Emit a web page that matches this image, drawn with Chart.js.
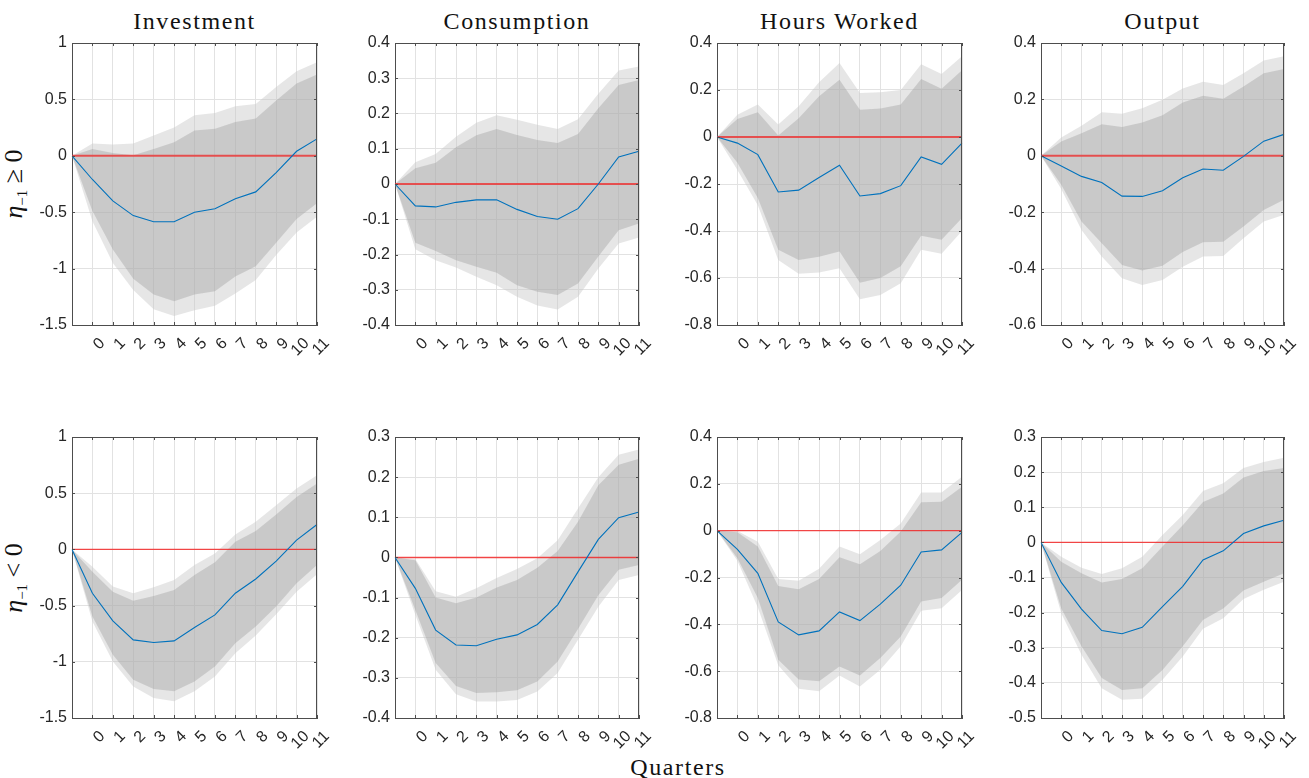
<!DOCTYPE html>
<html><head><meta charset="utf-8">
<script src="https://cdn.jsdelivr.net/npm/chart.js@4"></script>
<style>
body{margin:0;background:#fff;width:1309px;height:778px;position:relative;overflow:hidden;}
canvas{position:absolute;}
.ttl{position:absolute;font-family:"Liberation Serif",serif;font-size:24px;line-height:24px;letter-spacing:1.6px;color:#111;transform:translateX(-50%);white-space:nowrap;}
.row{position:absolute;font-family:"Liberation Serif",serif;font-size:26px;line-height:26px;color:#111;white-space:nowrap;transform:translate(-50%,-50%) rotate(-90deg);}
.row sub{font-size:15px;vertical-align:-5px;}
</style></head><body>
<script>
// ---------- data ----------
const QUARTER_LABELS = ['', '0','1','2','3','4','5','6','7','8','9','10','11'];
const COLUMN_TITLES = ['Investment','Consumption','Hours Worked','Output'];
const ZERO_LINE = [0,0,0,0,0,0,0,0,0,0,0,0,0];

// Row 1: eta_{-1} >= 0
const INV_POS_IRF    = [0,-0.21,-0.40,-0.53,-0.585,-0.585,-0.50,-0.47,-0.38,-0.32,-0.15,0.04,0.15];
const INV_POS_IN_HI  = [0,0.06,0.025,0.005,0.06,0.12,0.225,0.24,0.30,0.33,0.49,0.64,0.72];
const INV_POS_IN_LO  = [0,-0.49,-0.83,-1.09,-1.23,-1.29,-1.23,-1.20,-1.07,-0.98,-0.77,-0.56,-0.42];
const INV_POS_OUT_HI = [0,0.11,0.10,0.11,0.18,0.25,0.36,0.38,0.44,0.46,0.61,0.75,0.83];
const INV_POS_OUT_LO = [0,-0.58,-0.95,-1.19,-1.36,-1.42,-1.37,-1.33,-1.22,-1.10,-0.88,-0.68,-0.54];

const CONS_POS_IRF    = [0,-0.062,-0.065,-0.052,-0.045,-0.045,-0.072,-0.092,-0.10,-0.07,0.0,0.077,0.093];
const CONS_POS_IN_HI  = [0,0.045,0.06,0.104,0.138,0.156,0.139,0.125,0.116,0.142,0.215,0.281,0.295];
const CONS_POS_IN_LO  = [0,-0.167,-0.19,-0.216,-0.235,-0.252,-0.287,-0.306,-0.315,-0.282,-0.206,-0.131,-0.112];
const CONS_POS_OUT_HI = [0,0.062,0.085,0.134,0.174,0.195,0.182,0.168,0.156,0.184,0.256,0.322,0.333];
const CONS_POS_OUT_LO = [0,-0.185,-0.216,-0.237,-0.263,-0.287,-0.32,-0.345,-0.356,-0.32,-0.24,-0.169,-0.152];

const HRS_POS_IRF    = [0,-0.026,-0.075,-0.234,-0.226,-0.172,-0.12,-0.251,-0.241,-0.207,-0.085,-0.116,-0.026];
const HRS_POS_IN_HI  = [0,0.077,0.105,0.006,0.08,0.173,0.244,0.116,0.121,0.138,0.247,0.205,0.284];
const HRS_POS_IN_LO  = [0,-0.11,-0.26,-0.48,-0.523,-0.51,-0.487,-0.62,-0.60,-0.55,-0.42,-0.437,-0.345];
const HRS_POS_OUT_HI = [0,0.095,0.138,0.053,0.131,0.233,0.315,0.187,0.19,0.20,0.31,0.268,0.344];
const HRS_POS_OUT_LO = [0,-0.14,-0.29,-0.523,-0.582,-0.577,-0.558,-0.69,-0.672,-0.622,-0.48,-0.497,-0.40];

const OUT_POS_IRF    = [0,-0.036,-0.073,-0.095,-0.143,-0.144,-0.124,-0.078,-0.047,-0.051,-0.002,0.052,0.076];
const OUT_POS_IN_HI  = [0,0.051,0.08,0.112,0.102,0.118,0.144,0.189,0.213,0.202,0.246,0.293,0.308];
const OUT_POS_IN_LO  = [0,-0.103,-0.233,-0.31,-0.387,-0.407,-0.39,-0.341,-0.307,-0.305,-0.251,-0.192,-0.156];
const OUT_POS_OUT_HI = [0,0.065,0.107,0.154,0.149,0.169,0.199,0.239,0.263,0.251,0.293,0.338,0.353];
const OUT_POS_OUT_LO = [0,-0.118,-0.263,-0.357,-0.434,-0.458,-0.44,-0.393,-0.357,-0.355,-0.292,-0.233,-0.209];

// Row 2: eta_{-1} < 0
const INV_NEG_IRF    = [0,-0.39,-0.636,-0.805,-0.828,-0.814,-0.695,-0.583,-0.39,-0.263,-0.104,0.083,0.222];
const INV_NEG_IN_HI  = [0,-0.198,-0.376,-0.456,-0.414,-0.361,-0.228,-0.115,0.068,0.163,0.311,0.467,0.586];
const INV_NEG_IN_LO  = [0,-0.598,-0.938,-1.16,-1.243,-1.263,-1.175,-1.041,-0.834,-0.686,-0.509,-0.302,-0.139];
const INV_NEG_OUT_HI = [0,-0.154,-0.331,-0.39,-0.337,-0.272,-0.139,-0.036,0.133,0.246,0.393,0.541,0.66];
const INV_NEG_OUT_LO = [0,-0.642,-0.997,-1.219,-1.322,-1.352,-1.263,-1.13,-0.923,-0.766,-0.577,-0.376,-0.222];

const CONS_NEG_IRF    = [0,-0.077,-0.181,-0.218,-0.22,-0.204,-0.193,-0.167,-0.118,-0.036,0.045,0.099,0.113];
const CONS_NEG_IN_HI  = [0,-0.007,-0.10,-0.114,-0.10,-0.075,-0.056,-0.026,0.016,0.089,0.18,0.231,0.246];
const CONS_NEG_IN_LO  = [0,-0.131,-0.263,-0.32,-0.338,-0.336,-0.331,-0.309,-0.259,-0.178,-0.094,-0.031,-0.019];
const CONS_NEG_OUT_HI = [0,-0.004,-0.084,-0.098,-0.077,-0.051,-0.029,-0.002,0.043,0.122,0.20,0.256,0.269];
const CONS_NEG_OUT_LO = [0,-0.143,-0.28,-0.341,-0.359,-0.359,-0.355,-0.334,-0.288,-0.205,-0.123,-0.056,-0.044];

const HRS_NEG_IRF    = [0,-0.08,-0.182,-0.39,-0.445,-0.428,-0.347,-0.384,-0.314,-0.233,-0.091,-0.082,-0.007];
const HRS_NEG_IN_HI  = [0,-0.007,-0.068,-0.236,-0.25,-0.206,-0.114,-0.143,-0.087,-0.004,0.121,0.124,0.188];
const HRS_NEG_IN_LO  = [0,-0.118,-0.288,-0.551,-0.636,-0.643,-0.58,-0.618,-0.544,-0.452,-0.303,-0.288,-0.21];
const HRS_NEG_OUT_HI = [0,-0.001,-0.047,-0.206,-0.214,-0.163,-0.068,-0.101,-0.04,0.031,0.163,0.163,0.23];
const HRS_NEG_OUT_LO = [0,-0.129,-0.328,-0.575,-0.675,-0.686,-0.618,-0.665,-0.594,-0.494,-0.342,-0.331,-0.253];

const OUT_NEG_IRF    = [0,-0.114,-0.19,-0.251,-0.26,-0.242,-0.183,-0.125,-0.05,-0.024,0.025,0.047,0.063];
const OUT_NEG_IN_HI  = [0,-0.055,-0.088,-0.114,-0.104,-0.074,-0.012,0.049,0.115,0.139,0.185,0.203,0.212];
const OUT_NEG_IN_LO  = [0,-0.188,-0.296,-0.386,-0.42,-0.415,-0.363,-0.296,-0.221,-0.188,-0.137,-0.112,-0.088];
const OUT_NEG_OUT_HI = [0,-0.041,-0.072,-0.09,-0.074,-0.041,0.021,0.078,0.146,0.168,0.212,0.229,0.241];
const OUT_NEG_OUT_LO = [0,-0.202,-0.32,-0.415,-0.448,-0.445,-0.391,-0.325,-0.246,-0.216,-0.161,-0.135,-0.112];

// y-axis ranges (tick labels) per panel, row-major
const Y_MIN  = [-1.5,-0.4,-0.8,-0.6, -1.5,-0.4,-0.8,-0.5];
const Y_MAX  = [ 1.0, 0.4, 0.4, 0.4,  1.0, 0.3, 0.4, 0.3];
const Y_STEP = [ 0.5, 0.1, 0.2, 0.2,  0.5, 0.1, 0.2, 0.1];

const PANELS = [
  [INV_POS_IRF, INV_POS_IN_HI, INV_POS_IN_LO, INV_POS_OUT_HI, INV_POS_OUT_LO],
  [CONS_POS_IRF, CONS_POS_IN_HI, CONS_POS_IN_LO, CONS_POS_OUT_HI, CONS_POS_OUT_LO],
  [HRS_POS_IRF, HRS_POS_IN_HI, HRS_POS_IN_LO, HRS_POS_OUT_HI, HRS_POS_OUT_LO],
  [OUT_POS_IRF, OUT_POS_IN_HI, OUT_POS_IN_LO, OUT_POS_OUT_HI, OUT_POS_OUT_LO],
  [INV_NEG_IRF, INV_NEG_IN_HI, INV_NEG_IN_LO, INV_NEG_OUT_HI, INV_NEG_OUT_LO],
  [CONS_NEG_IRF, CONS_NEG_IN_HI, CONS_NEG_IN_LO, CONS_NEG_OUT_HI, CONS_NEG_OUT_LO],
  [HRS_NEG_IRF, HRS_NEG_IN_HI, HRS_NEG_IN_LO, HRS_NEG_OUT_HI, HRS_NEG_OUT_LO],
  [OUT_NEG_IRF, OUT_NEG_IN_HI, OUT_NEG_IN_LO, OUT_NEG_OUT_HI, OUT_NEG_OUT_LO]
];

// ---------- layout & style ----------
const COL_LEFT = [72, 395, 717, 1041];
const COL_W = [245, 244, 245, 243];
const ROW_TOP = [43, 437];
const ROW_H = [282, 281];
const YW = 60, TP = 12, RP = 24, XH = 44;
const FRAME = '#4d4d4d';
const TICKCOL = '#262626';
const GRID = '#e2e2e2';
const TL = 3;

const framePlugin = {
  id: 'frame',
  afterDraw(chart) {
    const {ctx, chartArea: a, scales: {x, y}} = chart;
    ctx.save();
    ctx.strokeStyle = FRAME; ctx.lineWidth = 1;
    ctx.beginPath();
    ctx.moveTo(a.left, a.top + 0.5); ctx.lineTo(a.right, a.top + 0.5);
    ctx.moveTo(a.right - 0.5, a.top); ctx.lineTo(a.right - 0.5, a.bottom);
    x.ticks.forEach((t, i) => {
      const px = Math.round(x.getPixelForTick(i)) + 0.5;
      ctx.moveTo(px, a.bottom); ctx.lineTo(px, a.bottom - TL);
      ctx.moveTo(px, a.top); ctx.lineTo(px, a.top + TL);
    });
    y.ticks.forEach((t, i) => {
      const py = Math.round(y.getPixelForTick(i)) + 0.5;
      ctx.moveTo(a.left, py); ctx.lineTo(a.left + TL, py);
      ctx.moveTo(a.right, py); ctx.lineTo(a.right - TL, py);
    });
    ctx.stroke();
    ctx.restore();
  }
};

function addDiv(cls, html, left, top) {
  const d = document.createElement('div');
  d.className = cls; d.innerHTML = html;
  d.style.left = left + 'px'; d.style.top = top + 'px';
  document.body.appendChild(d);
}

COLUMN_TITLES.forEach((t, c) => addDiv('ttl', t, COL_LEFT[c] + COL_W[c] / 2, 9));
addDiv('row', '<i>η</i><sub>−1</sub> ≥ 0', 18, ROW_TOP[0] + ROW_H[0] / 2);
addDiv('row', '<i>η</i><sub>−1</sub> &lt; 0', 18, ROW_TOP[1] + ROW_H[1] / 2);
addDiv('ttl', 'Quarters', (COL_LEFT[0] + COL_LEFT[3] + COL_W[3]) / 2, 755);

PANELS.forEach((series, p) => {
  const r = Math.floor(p / 4), c = p % 4;
  const W = YW + COL_W[c] + RP, H = TP + ROW_H[r] + XH;
  const cv = document.createElement('canvas');
  cv.width = W; cv.height = H;
  cv.style.left = (COL_LEFT[c] - YW) + 'px';
  cv.style.top = (ROW_TOP[r] - TP) + 'px';
  cv.style.width = W + 'px'; cv.style.height = H + 'px';
  document.body.appendChild(cv);
  const [irf, inHi, inLo, outHi, outLo] = series;
  const band = (d, fill, color) => ({data: d, fill: fill, backgroundColor: color,
    borderColor: 'rgba(0,0,0,0)', borderWidth: 0.01, pointRadius: 0});
  new Chart(cv, {
    type: 'line',
    data: {
      labels: QUARTER_LABELS,
      datasets: [
        {data: irf, borderColor: '#0072BD', borderWidth: 1.1, fill: false, pointRadius: 0},
        {data: ZERO_LINE, borderColor: r === 0 ? 'rgba(240,40,40,0.75)' : 'rgba(245,30,30,0.8)',
          borderWidth: r === 0 ? 2 : 1.4, fill: false, pointRadius: 0},
        band(inHi, '+1', 'rgba(150,150,150,0.35)'),
        band(inLo, false, 'rgba(0,0,0,0)'),
        band(outHi, '+1', 'rgba(200,200,200,0.45)'),
        band(outLo, false, 'rgba(0,0,0,0)')
      ]
    },
    options: {
      responsive: false, animation: false, devicePixelRatio: 1,
      layout: {padding: {left: 0, right: RP, top: TP, bottom: 0}},
      plugins: {legend: {display: false}, tooltip: {enabled: false}},
      elements: {line: {tension: 0}, point: {radius: 0}},
      scales: {
        x: {
          type: 'category', offset: false,
          grid: {color: GRID, drawTicks: false, lineWidth: 1},
          border: {display: true, color: FRAME, width: 1},
          ticks: {autoSkip: false, minRotation: 45, maxRotation: 45, labelOffset: 10, padding: 9,
            color: TICKCOL, font: {family: 'Liberation Sans', size: 16}},
          afterFit(s) { s.height = XH; s.paddingLeft = 0; s.paddingRight = 0; }
        },
        y: {
          min: Y_MIN[p], max: Y_MAX[p],
          grid: {color: GRID, drawTicks: false, lineWidth: 1},
          border: {display: true, color: FRAME, width: 1},
          ticks: {stepSize: Y_STEP[p], padding: 5, color: TICKCOL,
            font: {family: 'Liberation Sans', size: 16},
            callback: v => String(Math.round(v * 100) / 100)},
          afterFit(s) { s.width = YW; s.paddingTop = 0; s.paddingBottom = 0; }
        }
      }
    },
    plugins: [framePlugin]
  });
});
</script>
</body></html>
